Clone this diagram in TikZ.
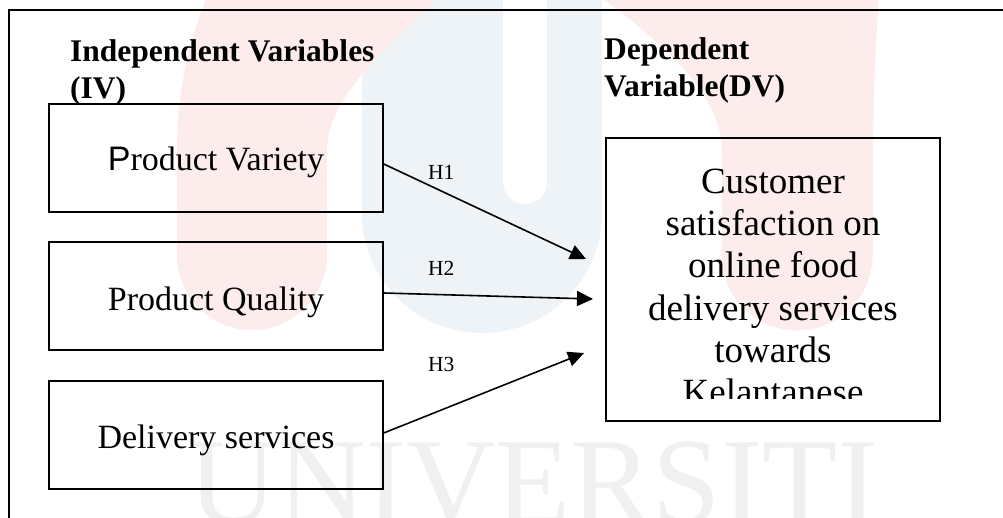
\documentclass[tikz,border=0pt]{standalone}
\usepackage{fontspec}
\setmainfont{Liberation Serif}
\newfontfamily\arialfont{Liberation Sans}
\usetikzlibrary{arrows.meta}
\definecolor{wmred}{RGB}{252,236,236}
\definecolor{wmblue}{RGB}{238,243,248}
\definecolor{wmgrey}{RGB}{240,240,240}
\tikzset{
  varbox/.style={draw, line width=1.5pt, minimum width=334pt, minimum height=108pt, inner sep=0pt},
  dvbox/.style={draw, line width=1.5pt, minimum width=334pt, minimum height=283pt, inner sep=0pt},
  boxtext/.style={anchor=base, inner sep=0pt, font=\fontsize{34}{40}\selectfont},
  dvtext/.style={anchor=base, inner sep=0pt, font=\fontsize{37}{42}\selectfont},
  heading/.style={anchor=base west, inner sep=0pt, font=\fontsize{31.5}{37}\selectfont\bfseries},
  hlabel/.style={anchor=base west, inner sep=0pt, font=\fontsize{21.5}{25}\selectfont},
  link/.style={line width=1.6pt, -{Triangle[length=16pt,width=15pt]}},
  frameline/.style={line width=2pt},
}
\begin{document}
\begin{tikzpicture}[x=1pt,y=-1pt]
  \useasboundingbox (0,0) rectangle (1003,518);
  \fill[white] (0,0) rectangle (1003,518);

  % faint logo watermark behind the diagram
  \begin{scope}
    \clip (0,0) rectangle (1003,518);
    % blue U with its slot
    \fill[wmblue] (482,213) circle[radius=120];
    \fill[wmblue] (362,-10) rectangle (602,213);
    \fill[white] (525,182) circle[radius=22];
    \fill[white] (503,-10) rectangle (547,182);
    % red arch
    \fill[wmred] (252,255) circle[radius=75];
    \fill[wmred] (797,255) circle[radius=75.5];
    \fill[wmred] (177,255) -- (177,150)
      .. controls (177,80) and (195,20) .. (215,-20)
      -- (880,-20)
      .. controls (876,40) and (873,90) .. (873,150)
      -- (873,255) -- (722,255) -- (722,150)
      .. controls (722,90) and (650,30) .. (575,-20)
      -- (455,-20)
      .. controls (400,40) and (327,90) .. (327,150)
      -- (327,255) -- cycle;
    % lettering
    \node[anchor=base west, inner sep=0pt, text=wmgrey,
          font=\fontsize{123}{123}\selectfont] (wmtext) at (188,523) {UNIVERSITI};
  \end{scope}

  % outer frame (top and left rules)
  \coordinate (fbl) at (9,518);
  \coordinate (ftl) at (9,10);
  \coordinate (ftr) at (1003,10);
  \draw[frameline] (fbl) -- (ftl) -- (ftr);

  % headings
  \node[heading] (ivh1) at (70,62) {Independent Variables};
  \node[heading] (ivh2) at (70,99) {(IV)};
  \node[heading] (dvh1) at (604,60) {Dependent};
  \node[heading] (dvh2) at (604,97) {Variable(DV)};

  % independent variable boxes
  \node[varbox] (b1) at (216,158) {};
  \node[varbox] (b2) at (216,296) {};
  \node[varbox] (b3) at (216,435) {};
  \node[boxtext] (t1) at (216,171) {{\arialfont P}roduct Variety};
  \node[boxtext] (t2) at (216,310) {Product Quality};
  \node[boxtext] (t3) at (216,448) {Delivery services};

  % dependent variable box
  \node[dvbox] (dv) at (773,279.5) {};
  \begin{scope}
    \clip (606,138) rectangle (940,398);
    \node[dvtext] (d1) at (773,194) {Customer};
    \node[dvtext] (d2) at (773,236) {satisfaction on};
    \node[dvtext] (d3) at (773,278) {online food};
    \node[dvtext] (d4) at (773,320) {delivery services};
    \node[dvtext] (d5) at (773,362) {towards};
    \node[dvtext] (d6) at (773,404) {Kelantanese};
  \end{scope}

  % hypothesis arrows
  \coordinate (tip1) at (586,259);
  \coordinate (tip2) at (593,299);
  \coordinate (tip3) at (584,353);
  \draw[link] ([yshift=-6pt]b1.east) -- (tip1);
  \draw[link] ([yshift=3pt]b2.east) -- (tip2);
  \draw[link] ([yshift=2pt]b3.east) -- (tip3);
  \node[hlabel] (h1) at (428,180) {H1};
  \node[hlabel] (h2) at (428,276) {H2};
  \node[hlabel] (h3) at (428,371) {H3};
\end{tikzpicture}
\end{document}
